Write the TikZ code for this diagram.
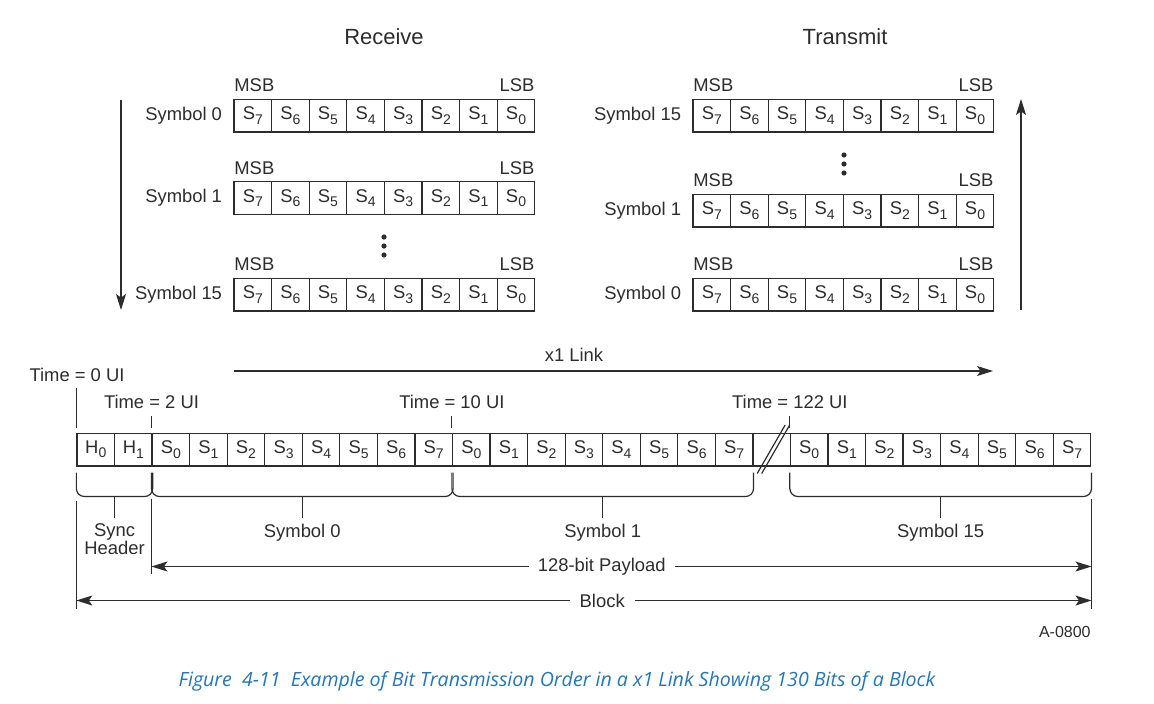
\documentclass[tikz,border=0pt]{standalone}
\usepackage{fontspec}
\setmainfont{Liberation Sans}
\newfontfamily\capfont{Open Sans}
\usetikzlibrary{arrows.meta,positioning,calc}
\definecolor{ink}{RGB}{45,45,45}
\definecolor{capblue}{RGB}{38,118,178}
\tikzset{
  cell/.style={draw=ink,line width=0.6pt,minimum width=18.8pt,minimum height=16.4pt,inner sep=0pt,font=\fontsize{9.2}{10}\selectfont,text=ink},
  lbl/.style={font=\fontsize{9.2}{9}\selectfont,text=ink,inner sep=1pt,align=center},
  msb/.style={font=\fontsize{9.2}{10}\selectfont,text=ink,inner xsep=0.3pt,inner ysep=3pt},
  ttl/.style={font=\fontsize{11}{12}\selectfont,text=ink},
  ln/.style={draw=ink,line width=0.6pt},
  tip/.style={-{Stealth[length=8pt,width=5pt,inset=1.8pt]}},
  dimtip/.style={{Stealth[length=8pt,width=5pt,inset=1.8pt]}-{Stealth[length=8pt,width=5pt,inset=1.8pt]}},
}
% lowered index digit in a cell
\newcommand{\sbs}[1]{\raisebox{-2.2pt}{\fontsize{7}{7}\selectfont#1}}
% bracket under a group of cells, stem end named #3
\newcommand{\grpbrace}[3]{%
  \draw[ln,rounded corners=4pt] ($(#1.south west)+(0,6)$) -- ($(#1.south west)+(0,30)$) -- ($(#2.south east)+(0,30)$) -- ($(#2.south east)+(0,6)$);
  \coordinate (#3) at ($(#1.south west)!0.5!(#2.south east)+(0,51)$);
  \draw[ln] ($(#1.south west)!0.5!(#2.south east)+(0,30)$) -- (#3);
}
\begin{document}
\begin{tikzpicture}[x=0.5pt,y=-0.5pt]
  \fill[white] (0,0) rectangle (1154,703);
  \useasboundingbox (0,0) rectangle (1154,703);
  \node[ttl] (rxtitle) at (384,37) {Receive};
  \node[ttl] (txtitle) at (845,37) {Transmit};
  % receive side
  \foreach \r/\yy in {0/115.5,1/198,15/294.5}{
    \foreach \i in {0,...,7}{
      \pgfmathtruncatemacro{\b}{7-\i}
      \node[cell] (rx\r-\i) at (252.8+37.6*\i,\yy) {S\sbs{\b}};
    }
    \node[lbl,left=4.5pt of rx\r-0] (rxname\r) {Symbol \r};
    \node[msb,anchor=south west] (rxmsb\r) at (rx\r-0.north west) {MSB};
    \node[msb,anchor=south east] (rxlsb\r) at (rx\r-7.north east) {LSB};
  }
  \foreach \d in {237,246,255}{\fill[ink] (384,\d) circle (1.3pt);}
  \coordinate (rxtop) at (121,100);
  \coordinate (rxbot) at (121,310);
  \draw[ln,tip] (rxtop) -- (rxbot);
  % transmit side
  \foreach \r/\yy in {15/115.5,1/210.5,0/294.5}{
    \foreach \i in {0,...,7}{
      \pgfmathtruncatemacro{\b}{7-\i}
      \node[cell] (tx\r-\i) at (711.8+37.6*\i,\yy) {S\sbs{\b}};
    }
    \node[lbl,left=4.5pt of tx\r-0] (txname\r) {Symbol \r};
    \node[msb,anchor=south west] (txmsb\r) at (tx\r-0.north west) {MSB};
    \node[msb,anchor=south east] (txlsb\r) at (tx\r-7.north east) {LSB};
  }
  \foreach \d in {155,164,173}{\fill[ink] (844,\d) circle (1.3pt);}
  \coordinate (txbot) at (1021,310);
  \coordinate (txtop) at (1021,99);
  \draw[ln,tip] (txbot) -- (txtop);
  % x1 link
  \coordinate (linkA) at (234,371);
  \coordinate (linkB) at (993,371);
  \draw[ln,tip] (linkA) -- (linkB);
  \node[lbl] (linklab) at (574,355) {x1 Link};
  % serial block
  \node[cell] (h0) at ({77+37.55*0.5},449.5) {H\sbs{0}};
  \node[cell] (h1) at ({77+37.55*1.5},449.5) {H\sbs{1}};
  \foreach \i in {0,...,7}{
    \node[cell] (a\i) at ({77+37.55*(2.5+\i)},449.5) {S\sbs{\i}};
    \node[cell] (b\i) at ({77+37.55*(10.5+\i)},449.5) {S\sbs{\i}};
    \node[cell] (c\i) at ({77+37.55*(19.5+\i)},449.5) {S\sbs{\i}};
  }
  \node[cell] (gap) at ({77+37.55*18.5},449.5) {};
  \draw[ln] ($(gap)+(-14.5,24)$) -- ($(gap)+(13.5,-24.5)$);
  \draw[ln] ($(gap)+(-10,24)$) -- ($(gap)+(18,-24.5)$);
  % time marks
  \node[lbl] (t0) at (77,375) {Time = 0 UI};
  \draw[ln] ($(h0.north west)+(0,-5)$) -- ($(h0.north west)+(0,-45)$);
  \foreach \n/\t in {a0/2,b0/10,c0/122}{
    \node[lbl] (t\t) at ($(\n.north west)+(0,-30.5)$) {Time = \t\ UI};
    \draw[ln] ($(\n.north west)+(0,-5)$) -- ($(\n.north west)+(0,-17)$);
  }
  % groups
  \grpbrace{h0}{h1}{shst}
  \grpbrace{a0}{a7}{s0st}
  \grpbrace{b0}{b7}{s1st}
  \grpbrace{c0}{c7}{s15st}
  \node[lbl,below=2pt of shst] (shlab) {Sync\\Header};
  \node[lbl,below=2pt of s0st] (s0lab) {Symbol 0};
  \node[lbl,below=2pt of s1st] (s1lab) {Symbol 1};
  \node[lbl,below=2pt of s15st] (s15lab) {Symbol 15};
  % extents
  \draw[ln] ($(h0.south west)+(0,34)$) -- ($(h0.south west)+(0,142)$);
  \draw[ln] ($(a0.south west)+(0,32)$) -- ($(a0.south west)+(0,107)$);
  \draw[ln] ($(c7.south east)+(0,32)$) -- ($(c7.south east)+(0,142)$);
  \coordinate (plL) at ($(a0.south west)+(0,100)$);
  \coordinate (plR) at ($(c7.south east)+(0,100)$);
  \draw[ln,dimtip] (plL) -- (plR) node[lbl,pos=0.479,fill=white,inner xsep=4.5pt] (pllab) {128-bit Payload};
  \coordinate (blL) at ($(h0.south west)+(0,134)$);
  \coordinate (blR) at ($(c7.south east)+(0,134)$);
  \draw[ln,dimtip] (blL) -- (blR) node[lbl,pos=0.518,fill=white,inner xsep=5pt] (bllab) {Block};
  \node[font=\fontsize{8}{9}\selectfont,text=ink,anchor=east,inner sep=0pt] (fig) at (1091,632) {A-0800};
  \node[font=\capfont\itshape\fontsize{9.8}{12}\selectfont,text=capblue] (caption) at (557,681) {Figure\ \ 4-11\ \ Example of Bit Transmission Order in a x1 Link Showing 130 Bits of a Block};
\end{tikzpicture}
\end{document}
